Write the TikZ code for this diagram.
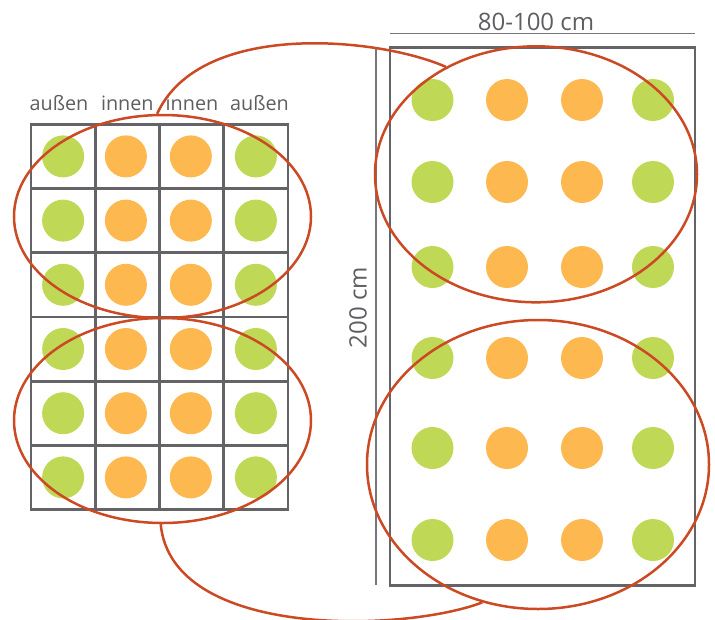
\documentclass[tikz,border=0pt]{standalone}
\usepackage{fontspec}
\setmainfont{Open Sans}
\usetikzlibrary{shapes.geometric}
\definecolor{gridgray}{HTML}{646468}
\definecolor{dimgray}{HTML}{77777B}
\definecolor{textgray}{HTML}{5E5E62}
\definecolor{leafgreen}{HTML}{BFD957}
\definecolor{fruitorange}{HTML}{FDB84F}
\definecolor{loopred}{HTML}{CB4A24}
\begin{document}
\begin{tikzpicture}[x=1pt,y=-1pt,
  cell/.style={draw=gridgray, line width=2.8pt, minimum width=64.25pt, minimum height=64.2pt, inner sep=0pt, outer sep=0pt},
  greenplant/.style={circle, fill=leafgreen, minimum size=42pt, inner sep=0pt},
  orangeplant/.style={circle, fill=fruitorange, minimum size=42pt, inner sep=0pt},
  bed/.style={draw=gridgray, line width=2.8pt, minimum width=305pt, minimum height=537.6pt, inner sep=0pt},
  loop/.style={ellipse, draw=loopred, line width=2.5pt, inner sep=0pt},
  link/.style={draw=loopred, line width=2.5pt},
  collabel/.style={text=textgray, font=\fontsize{19.8}{20}\selectfont, anchor=base, inner sep=0pt},
  dimlabel/.style={text=textgray, font=\fontsize{24}{24}\selectfont, anchor=base, inner sep=0pt},
  dimline/.style={draw=dimgray, line width=1.2pt}]
\useasboundingbox (0,0) rectangle (715,619);
% left grid
\foreach \r in {1,...,6}{
  \foreach \c in {1,...,4}{
    \node[cell] (cell\r\c) at ({31+64.25*(\c-0.5)}, {124.3+64.2*(\r-0.5)}) {};
  }
  \node[greenplant]  (lg\r a) at (cell\r1) {};
  \node[orangeplant] (lo\r b) at ([xshift=-1.5pt]cell\r2.center) {};
  \node[orangeplant] (lo\r c) at ([xshift=-0.8pt]cell\r3.center) {};
  \node[greenplant]  (lg\r d) at (cell\r4) {};
}
% column labels
\node[collabel] (l1) at (59,110) {außen};
\node[collabel] (l2) at (127.3,110) {innen};
\node[collabel] (l3) at (192,110) {innen};
\node[collabel] (l4) at (259.5,110) {außen};
% right bed
\node[bed] (bed) at (542.5,316.5) {};
\foreach \r/\y in {1/100,2/182,3/267,4/358,5/448,6/540}{
  \node[greenplant]  (rg\r a) at (432.5,\y) {};
  \node[orangeplant] (ro\r b) at (507,\y) {};
  \node[orangeplant] (ro\r c) at (582,\y) {};
  \node[greenplant]  (rg\r d) at (653,\y) {};
}
% dimensions
\coordinate (wA) at (390,33.5);
\coordinate (wB) at (695,33.5);
\coordinate (hA) at (376,48);
\coordinate (hB) at (376,585);
\draw[dimline] (wA) -- (wB);
\draw[dimline] (hA) -- (hB);
\node[dimlabel] (wlab) at (536,30) {80-100 cm};
\node[dimlabel, rotate=90] (hlab) at (366.5,307.5) {200 cm};
% rotation loops
\node[loop, minimum width=297pt, minimum height=203pt] (lu) at (162.5,216.5) {};
\node[loop, minimum width=297pt, minimum height=205pt] (ll) at (162.5,420.5) {};
\node[loop, minimum width=322pt, minimum height=256pt] (ru) at (536,174.3) {};
\node[loop, minimum width=342pt, minimum height=289pt] (rl) at (538,464.5) {};
\draw[link] (lu.93) .. controls (200,20) and (378,37) .. (ru.130);
\draw[link] (ll.269) .. controls (172,640) and (405,632) .. (rl.248);
\end{tikzpicture}
\end{document}
